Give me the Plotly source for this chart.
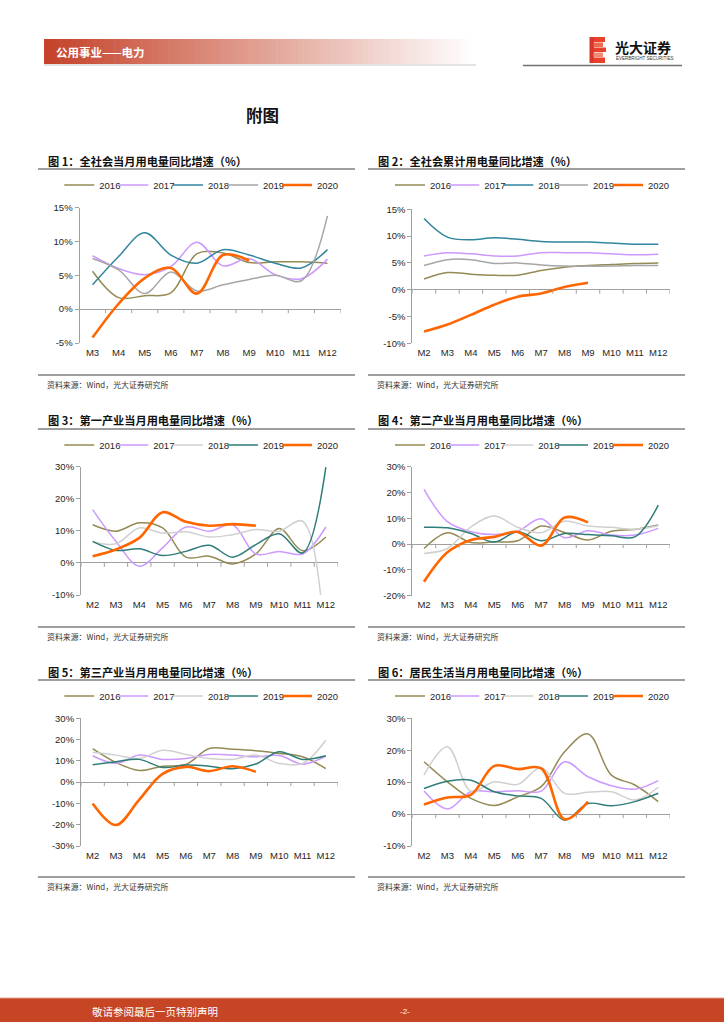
import plotly.graph_objects as go

# ---------------- data ----------------
years = ["2016", "2017", "2018", "2019", "2020"]
months_m3 = ["M3", "M4", "M5", "M6", "M7", "M8", "M9", "M10", "M11", "M12"]
months_m2 = ["M2", "M3", "M4", "M5", "M6", "M7", "M8", "M9", "M10", "M11", "M12"]

# Fig 1: total monthly consumption growth (%)
c1_2016 = [5.6, 1.7, 2.0, 2.4, 8.2, 8.3, 6.9, 7.0, 7.0, 6.8]
c1_2017 = [7.9, 6.0, 5.1, 6.3, 9.9, 6.4, 7.5, 5.1, 4.5, 7.4]
c1_2018 = [3.6, 7.8, 11.3, 8.0, 6.8, 8.8, 8.0, 6.8, 6.1, 8.8]
c1_2019 = [7.5, 5.8, 2.3, 5.5, 2.7, 3.6, 4.4, 5.0, 4.2, 13.8]
c1_2020 = [-4.2, 0.8, 4.6, 6.1, 2.3, 8.0, 7.2]

# Fig 2: total cumulative consumption growth (%)
c2_2016 = [2.0, 3.2, 2.9, 2.7, 2.7, 3.6, 4.2, 4.5, 4.7, 4.9, 5.0]
c2_2017 = [6.3, 6.9, 6.7, 6.3, 6.3, 6.9, 6.9, 6.9, 6.7, 6.5, 6.6]
c2_2018 = [13.3, 9.8, 9.3, 9.7, 9.4, 9.0, 8.9, 8.9, 8.7, 8.5, 8.5]
c2_2019 = [4.5, 5.6, 5.6, 4.9, 5.0, 4.6, 4.4, 4.4, 4.4, 4.5, 4.5]
c2_2020 = [-7.8, -6.5, -4.7, -2.8, -1.3, -0.7, 0.5, 1.3]

# Fig 3: primary industry
c3_2016 = [11.9, 9.9, 12.5, 10.9, 1.8, 2.1, -0.3, 2.8, 10.7, 3.8, 8.1]
c3_2017 = [16.6, 6.7, -1.0, 4.7, 11.2, 9.9, 11.9, 2.8, 3.6, 2.8, 11.2]
c3_2018 = [6.5, 6.0, 10.9, 9.3, 9.7, 8.1, 8.8, 10.4, 9.9, 13.0, -30.0]
c3_2019 = [6.7, 3.9, 4.4, 2.3, 3.6, 5.5, 1.8, 5.7, 9.1, 3.1, 29.9]
c3_2020 = [2.1, 4.2, 7.8, 15.8, 12.8, 11.6, 12.1, 11.6]

# Fig 4: secondary industry
c4_2016 = [-1.7, 4.4, 0.6, 0.9, 1.3, 7.0, 4.5, 1.6, 5.0, 5.7, 7.4]
c4_2017 = [21.2, 8.7, 4.8, 3.7, 5.0, 9.8, 2.5, 5.2, 3.5, 3.5, 6.1]
c4_2018 = [-3.6, -1.7, 6.7, 10.9, 6.5, 4.4, 8.9, 7.0, 6.5, 5.8, 7.1]
c4_2019 = [6.5, 6.3, 4.1, 0.8, 4.8, 1.3, 4.1, 3.7, 3.2, 2.8, 15.1]
c4_2020 = [-14.6, -3.2, 1.6, 2.8, 4.7, -0.6, 10.3, 8.4]

# Fig 5: tertiary industry
c5_2016 = [15.7, 9.2, 5.5, 7.5, 8.3, 15.8, 15.4, 14.7, 13.5, 11.9, 6.4]
c5_2017 = [12.4, 8.8, 12.7, 10.7, 11.1, 13.0, 12.7, 11.9, 12.5, 8.5, 12.2]
c5_2018 = [14.0, 12.7, 11.1, 15.0, 13.0, 11.1, 10.7, 12.7, 8.8, 8.8, 19.7]
c5_2019 = [8.2, 9.6, 10.7, 6.9, 8.0, 7.5, 6.3, 8.5, 14.3, 10.7, 12.4]
c5_2020 = [-10.0, -20.1, -8.2, 3.9, 7.2, 5.2, 7.5, 4.9]

# Fig 6: residential
c6_2016 = [16.4, 10.1, 4.9, 2.7, 5.4, 8.6, 19.5, 25.1, 12.2, 9.1, 3.9]
c6_2017 = [7.2, 1.6, 7.0, 7.0, 7.3, 7.2, 16.4, 11.7, 8.9, 7.8, 10.5]
c6_2018 = [12.2, 21.1, 7.2, 10.1, 9.3, 14.5, 6.5, 6.8, 7.0, 4.4, 8.4]
c6_2019 = [8.0, 10.3, 10.6, 7.0, 5.7, 4.9, -1.9, 3.3, 2.6, 3.9, 6.5]
c6_2020 = [3.0, 5.2, 6.0, 15.1, 14.1, 14.3, -1.6, 3.9]

titles = [
    "图 1：全社会当月用电量同比增速（%）",
    "图 2：全社会累计用电量同比增速（%）",
    "图 3：第一产业当月用电量同比增速（%）",
    "图 4：第二产业当月用电量同比增速（%）",
    "图 5：第三产业当月用电量同比增速（%）",
    "图 6：居民生活当月用电量同比增速（%）",
]
source_text = "资料来源：Wind，光大证券研究所"
header_text = "公用事业——电力"
page_title = "附图"
footer_text = "敬请参阅最后一页特别声明"
page_no = "-2-"

# ---------------- styling ----------------
W, H = 724, 1024
def X(px): return px / W
def Y(py): return 1 - py / H

C16, C17, C20 = "#948A54", "#CC99FF", "#FF6600"
colors_a = [C16, C17, "#31859C", "#A6A6A6", C20]
colors_b = [C16, C17, "#D0D0D0", "#2E7D78", C20]
widths = [1.5, 1.5, 1.5, 1.5, 2.6]

FONT = "Liberation Sans, Arial, sans-serif"
CJK = "Noto Sans CJK SC, sans-serif"
AXC = "#A0A0A0"

charts = [
    dict(cats=months_m3, series=[c1_2016, c1_2017, c1_2018, c1_2019, c1_2020], colors=colors_a,
         xd=(79.5, 340.5), yd=(207.7, 343.0), rng=(-5, 15), dt=5, col=0, row=0),
    dict(cats=months_m2, series=[c2_2016, c2_2017, c2_2018, c2_2019, c2_2020], colors=colors_a,
         xd=(412.3, 670.0), yd=(209.3, 343.3), rng=(-10, 15), dt=5, col=1, row=0),
    dict(cats=months_m2, series=[c3_2016, c3_2017, c3_2018, c3_2019, c3_2020], colors=colors_b,
         xd=(81.0, 337.5), yd=(466.7, 595.0), rng=(-10, 30), dt=10, col=0, row=1),
    dict(cats=months_m2, series=[c4_2016, c4_2017, c4_2018, c4_2019, c4_2020], colors=colors_b,
         xd=(412.3, 670.0), yd=(466.7, 595.7), rng=(-20, 30), dt=10, col=1, row=1),
    dict(cats=months_m2, series=[c5_2016, c5_2017, c5_2018, c5_2019, c5_2020], colors=colors_b,
         xd=(81.0, 337.5), yd=(718.3, 846.0), rng=(-30, 30), dt=10, col=0, row=2),
    dict(cats=months_m2, series=[c6_2016, c6_2017, c6_2018, c6_2019, c6_2020], colors=colors_b,
         xd=(412.3, 670.0), yd=(718.3, 846.0), rng=(-10, 30), dt=10, col=1, row=2),
]

title_y = [161, 420, 672]
title_line_y = [169, 429, 680]
legend_y = [185, 445, 696]
source_line_y = [375, 627, 877]
source_y = [384, 636, 886]
col_left = [(38, 355, 46), (368, 685, 376)]
legend_starts = [[69.3, 123.3, 178.0, 233.0, 287.0], [400.0, 454.3, 508.3, 563.0, 618.0]]

fig = go.Figure()
layout = dict(width=W, height=H, margin=dict(l=0, r=0, t=0, b=0, pad=0, autoexpand=False),
              paper_bgcolor="white", plot_bgcolor="rgba(0,0,0,0)",
              font=dict(family=FONT, size=9.5, color="#262626"))
shapes, annotations = [], []

leg_idx = 0
for k, ch in enumerate(charts):
    n = k + 1
    xa = "x" if n == 1 else f"x{n}"
    ya = "y" if n == 1 else f"y{n}"
    xkey = "xaxis" if n == 1 else f"xaxis{n}"
    ykey = "yaxis" if n == 1 else f"yaxis{n}"
    ncat = len(ch["cats"])
    layout[xkey] = dict(domain=[X(ch["xd"][0]), X(ch["xd"][1])], anchor=ya, type="category",
                        categoryorder="array", categoryarray=ch["cats"],
                        range=[-0.5, ncat - 0.5], showline=False, showgrid=False, ticks="",
                        zeroline=False, tickfont=dict(family=FONT, size=9.5, color="#262626"),
                        ticklabelstandoff=2, fixedrange=True, automargin=False)
    tv = list(range(ch["rng"][0], ch["rng"][1] + 1, ch["dt"]))
    layout[ykey] = dict(domain=[Y(ch["yd"][1]), Y(ch["yd"][0])], anchor=xa,
                        range=[ch["rng"][0], ch["rng"][1]], tickvals=tv,
                        ticktext=[f"{v}%" for v in tv], showgrid=False,
                        showline=True, linecolor=AXC, linewidth=1,
                        ticks="outside", ticklen=4, tickcolor=AXC, tickwidth=1,
                        zeroline=True, zerolinecolor=AXC, zerolinewidth=1,
                        tickfont=dict(family=FONT, size=9.5, color="#262626"),
                        fixedrange=True, automargin=False)
    for s, (yr, vals) in enumerate(zip(years, ch["series"])):
        leg_idx += 1
        lid = "legend" if leg_idx == 1 else f"legend{leg_idx}"
        fig.add_trace(go.Scatter(
            x=ch["cats"][:len(vals)], y=vals, name=yr, mode="lines",
            line=dict(color=ch["colors"][s], width=widths[s], shape="spline", smoothing=1.0),
            xaxis=xa, yaxis=ya, legend=lid, showlegend=True, hoverinfo="skip"))
        lx = legend_starts[ch["col"]][s] - 10
        layout[lid] = dict(x=X(lx), y=Y(legend_y[ch["row"]]), xanchor="left", yanchor="middle",
                           bgcolor="rgba(0,0,0,0)", borderwidth=0, itemwidth=30,
                           font=dict(family=FONT, size=9.5, color="#262626"),
                           orientation="h")
    # category boundary ticks on the zero line
    for i in range(ncat + 1):
        shapes.append(dict(type="line", xref=xa, yref=ya, x0=i - 0.5, x1=i - 0.5,
                           ysizemode="pixel", yanchor=0, y0=0, y1=-4,
                           line=dict(color=AXC, width=1)))
    # title, title underline, source line, source text
    cl = col_left[ch["col"]]
    r = ch["row"]
    annotations.append(dict(text=f"<b>{titles[k]}</b>", x=X(cl[2]), y=Y(title_y[r]),
                            xref="paper", yref="paper", xanchor="left", yanchor="middle",
                            showarrow=False, font=dict(family=CJK, size=11.2, color="#111111")))
    shapes.append(dict(type="line", xref="paper", yref="paper", x0=X(cl[0]), x1=X(cl[1]),
                       y0=Y(title_line_y[r]), y1=Y(title_line_y[r]),
                       line=dict(color="#7F7F7F", width=1.5)))
    shapes.append(dict(type="line", xref="paper", yref="paper", x0=X(cl[0]), x1=X(cl[1]),
                       y0=Y(source_line_y[r]), y1=Y(source_line_y[r]),
                       line=dict(color="#7F7F7F", width=1.5)))
    annotations.append(dict(text=source_text, x=X(cl[2] - 1), y=Y(source_y[r]),
                            xref="paper", yref="paper", xanchor="left", yanchor="middle",
                            showarrow=False, font=dict(family=CJK, size=7.9, color="#333333")))

# ---------------- header ----------------
x_start, x_end, nseg = 44.0, 476.0, 80
c0 = (197, 67, 42)
for i in range(nseg):
    t = i / (nseg - 1)
    rr = int(c0[0] + (255 - c0[0]) * t)
    gg = int(c0[1] + (255 - c0[1]) * t)
    bb = int(c0[2] + (255 - c0[2]) * t)
    xa0 = x_start + (x_end - x_start) * i / nseg
    xa1 = x_start + (x_end - x_start) * (i + 1) / nseg + 0.6
    shapes.append(dict(type="rect", xref="paper", yref="paper", x0=X(xa0), x1=X(xa1),
                       y0=Y(64), y1=Y(39), line=dict(width=0),
                       fillcolor=f"rgb({rr},{gg},{bb})", layer="below"))
shapes.append(dict(type="line", xref="paper", yref="paper", x0=X(44), x1=X(476), y0=Y(65), y1=Y(65),
                   line=dict(color="#C8C8C8", width=1)))
annotations.append(dict(text=f"<b>{header_text}</b>", x=X(54), y=Y(52), xref="paper", yref="paper",
                        xanchor="left", yanchor="middle", showarrow=False,
                        font=dict(family=CJK, size=11.5, color="white")))
# logo
shapes.append(dict(type="line", xref="paper", yref="paper", x0=X(523), x1=X(682), y0=Y(65.5), y1=Y(65.5),
                   line=dict(color="#707070", width=1.5)))
logo_bars = [(37, 42, 605, "#E8412C"), (42.5, 47, 603, "#EE6A4E"), (47.5, 52, 606, "#E8412C"),
             (52.5, 57, 603, "#F08A75"), (57.5, 63, 605, "#E8412C")]
shapes.append(dict(type="rect", xref="paper", yref="paper", x0=X(589.5), x1=X(594), y0=Y(63), y1=Y(37),
                   line=dict(width=0), fillcolor="#D9352A"))
for (t0, t1, xr, c) in logo_bars:
    shapes.append(dict(type="rect", xref="paper", yref="paper", x0=X(593.5), x1=X(xr), y0=Y(t1), y1=Y(t0),
                       line=dict(width=0), fillcolor=c))
annotations.append(dict(text="<b>光大证券</b>", x=X(613), y=Y(47), xref="paper", yref="paper",
                        xanchor="left", yanchor="middle", showarrow=False,
                        font=dict(family=CJK, size=14, color="#111111")))
annotations.append(dict(text="EVERBRIGHT SECURITIES", x=X(614), y=Y(58.5), xref="paper", yref="paper",
                        xanchor="left", yanchor="middle", showarrow=False,
                        font=dict(family=FONT, size=4.5, color="#333333")))
# page title
annotations.append(dict(text=f"<b>{page_title}</b>", x=X(262), y=Y(115), xref="paper", yref="paper",
                        xanchor="center", yanchor="middle", showarrow=False,
                        font=dict(family=CJK, size=16.5, color="#111111")))

# ---------------- footer ----------------
shapes.append(dict(type="rect", xref="paper", yref="paper", x0=0, x1=1, y0=Y(1022), y1=Y(998),
                   line=dict(width=0), fillcolor="#C64524"))
shapes.append(dict(type="line", xref="paper", yref="paper", x0=0, x1=1, y0=Y(998), y1=Y(998),
                   line=dict(color="#E8A090", width=1)))
annotations.append(dict(text=footer_text, x=X(90), y=Y(1011), xref="paper", yref="paper",
                        xanchor="left", yanchor="middle", showarrow=False,
                        font=dict(family=CJK, size=10.5, color="white")))
annotations.append(dict(text=page_no, x=X(405), y=Y(1011), xref="paper", yref="paper",
                        xanchor="center", yanchor="middle", showarrow=False,
                        font=dict(family=FONT, size=8, color="white")))

layout["shapes"] = shapes
layout["annotations"] = annotations
fig.update_layout(**layout)
fig.write_html("out.html", config={"displayModeBar": False, "staticPlot": True},
               post_script="document.body.style.margin='0';document.body.style.overflow='hidden';")
